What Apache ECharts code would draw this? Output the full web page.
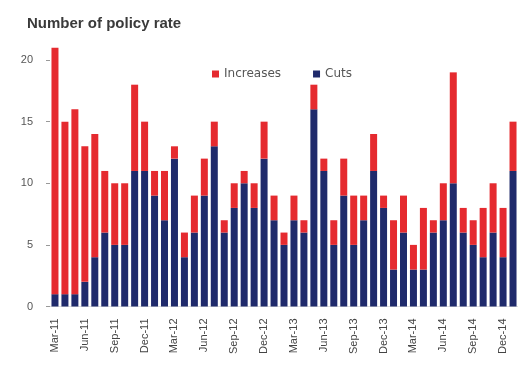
<!DOCTYPE html>
<html>
<head>
<meta charset="utf-8">
<script src="https://cdn.jsdelivr.net/npm/echarts@6/dist/echarts.min.js"></script>
<style>
html,body{margin:0;padding:0;background:#fff;}
#chart{width:518px;height:365px;}
</style>
</head>
<body>
<div id="chart"></div>
<script>
const months = ['Mar-11','Apr-11','May-11','Jun-11','Jul-11','Aug-11','Sep-11','Oct-11','Nov-11','Dec-11',
  'Jan-12','Feb-12','Mar-12','Apr-12','May-12','Jun-12','Jul-12','Aug-12','Sep-12','Oct-12','Nov-12','Dec-12',
  'Jan-13','Feb-13','Mar-13','Apr-13','May-13','Jun-13','Jul-13','Aug-13','Sep-13','Oct-13','Nov-13','Dec-13',
  'Jan-14','Feb-14','Mar-14','Apr-14','May-14','Jun-14','Jul-14','Aug-14','Sep-14','Oct-14','Nov-14','Dec-14','Jan-15'];
const cuts = [1,1,1,2,4,6,5,5,11,11,9,7,
  12,4,6,9,13,6,8,10,8,12,7,5,7,6,16,11,5,9,
  5,7,11,8,3,6,3,3,6,7,10,6,5,4,6,4,11];
const increases = [20,14,15,11,10,5,5,5,7,4,2,4,
  1,2,3,3,2,1,2,1,2,3,2,1,2,1,2,1,2,3,
  4,2,3,1,4,3,2,5,1,3,9,2,2,4,4,4,4];
const yTicks = [0,5,10,15,20];

const chart = echarts.init(document.getElementById('chart'));
chart.setOption({
  animation: false,
  backgroundColor: '#ffffff',
  title: {
    text: 'Number of policy rate',
    left: 22, top: 11,
    textStyle: {fontFamily: 'Liberation Sans', fontSize: 15, fontWeight: 'bold', color: '#3a3a3a'}
  },
  legend: {
    left: 207, top: 63,
    icon: 'rect', itemWidth: 7, itemHeight: 7, itemGap: 32,
    textStyle: {fontFamily: 'DejaVu Sans', fontSize: 12, color: '#555'},
    data: ['Increases','Cuts']
  },
  grid: {left: 50, width: 470, top: 35.4, height: 271.1},
  xAxis: {
    type: 'category',
    data: months,
    axisLine: {show: true, lineStyle: {color: '#dddddd'}},
    axisTick: {show: false},
    axisLabel: {
      interval: 2, rotate: 90, margin: 12,
      fontFamily: 'Liberation Sans', fontSize: 11, color: '#444'
    }
  },
  yAxis: {
    type: 'value', min: 0, max: 22,
    axisLine: {show: false},
    axisTick: {show: true, length: 4, lineStyle: {color: '#999999'}, customValues: yTicks},
    splitLine: {show: false},
    axisLabel: {
      customValues: yTicks, margin: 17,
      fontFamily: 'Liberation Sans', fontSize: 11, color: '#555'
    }
  },
  series: [
    {name: 'Cuts', type: 'bar', stack: 'r', data: cuts, barWidth: 7,
     itemStyle: {color: '#1f2a6b'}},
    {name: 'Increases', type: 'bar', stack: 'r', data: increases, barWidth: 7,
     itemStyle: {color: '#e52a2f'}}
  ]
});
</script>
</body>
</html>
